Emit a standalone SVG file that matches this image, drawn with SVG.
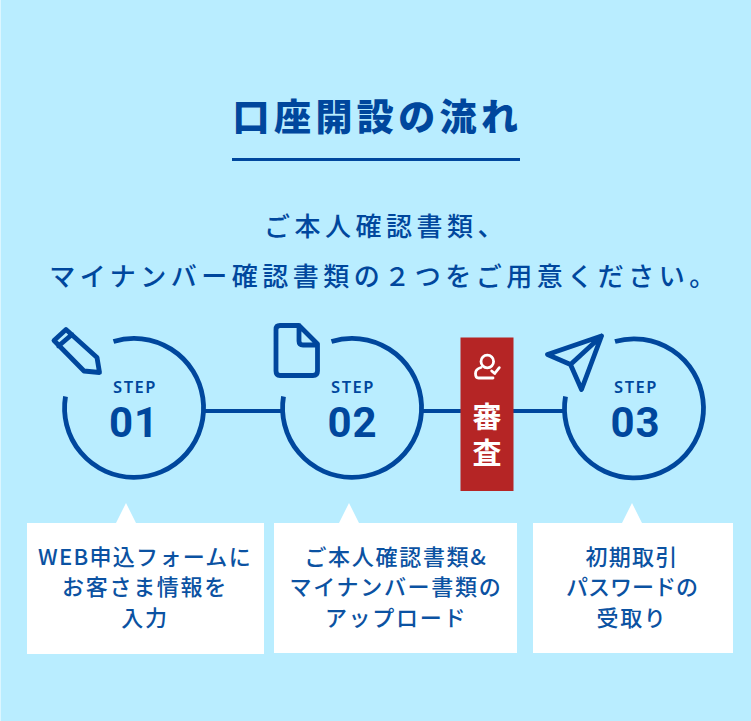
<svg xmlns="http://www.w3.org/2000/svg" width="751" height="721" viewBox="0 0 751 721">
<style>
text{font-family:"Noto Sans CJK JP","Noto Sans",sans-serif;fill:#00479d;text-anchor:middle}
.ttl{font-size:37px;font-weight:900;letter-spacing:4.400px}
.lead{font-size:26px;font-weight:500;letter-spacing:4.500px}
.st{font-family:"Noto Sans","Open Sans",sans-serif;font-size:16.500px;font-weight:600;letter-spacing:1.500px}
.num{font-family:"Roboto","Noto Sans",sans-serif;font-size:42px;font-weight:700;letter-spacing:1px}
.d{font-size:22px;font-weight:500;letter-spacing:1.700px;fill:#0b52a2}
.k{font-size:29px;font-weight:700;fill:#fff;writing-mode:vertical-rl;letter-spacing:7px}
.arc{fill:none;stroke:#00479d;stroke-width:4.800}
.cn{fill:none;stroke:#00479d;stroke-width:4.200}
.ic{fill:none;stroke:#00479d;stroke-width:4.800;stroke-linejoin:round;stroke-linecap:round}
.b{fill:#fff}
</style>
<rect width="751" height="721" fill="#b9edff"/>
<rect x="0" y="0" width="1" height="721" fill="#fff" opacity=".5"/>
<g id="title">
<text class="ttl" x="377.500" y="131">口座開設の流れ</text>
<rect x="232" y="158" width="288" height="3" fill="#00479d"/>
</g>
<g id="lead">
<text class="lead" x="386" y="236">ご本人確認書類、</text>
<text class="lead" x="384.500" y="286">マイナンバー確認書類の２つをご用意ください。</text>
</g>
<g id="connectors">
<path class="cn" d="M205 411H281M423 411H461M513 411H565"/>
</g>
<g id="step1">
<path class="arc" d="M113.500 341.500A69.500 69.500 0 1 1 65.500 396.500"/>
<path class="ic" d="M54 340.500L66 329.500L97 357.500L99.500 372.500L84 371ZM58.500 346L72 334.500"/>
<text class="st" x="135" y="393">STEP</text>
<text class="num" x="134" y="437">01</text>
</g>
<g id="step2">
<path class="arc" d="M331.500 341.500A69.500 69.500 0 1 1 283.500 396.500"/>
<path class="ic" d="M299 325.500H280Q276 325.500 276 329.500V371Q276 375.500 280 375.500H313Q317.500 375.500 317.500 371V344L299 325.500V341Q299 345 303 345H317.500"/>
<text class="st" x="353" y="393">STEP</text>
<text class="num" x="352.500" y="437">02</text>
</g>
<g id="review">
<rect x="460.500" y="337.500" width="53" height="153.500" fill="#b52525"/>
<circle cx="487.300" cy="361.500" r="6.300" fill="none" stroke="#fff" stroke-width="2.800"/>
<path d="M493 378H478.500Q475.500 378 475.500 373.500Q475.500 369 481 367.500M491.700 371L494.700 373.500L499.300 367.700" fill="none" stroke="#fff" stroke-width="2.800" stroke-linecap="round" stroke-linejoin="round"/>
<text class="k" x="487" y="438.500">審査</text>
</g>
<g id="step3">
<path class="arc" d="M615 341.500A69.500 69.500 0 1 1 565.500 396.500"/>
<path class="ic" d="M601.500 336L547.500 354.500L570.500 364.500L581.500 389.500ZM601.500 336L570.500 364.500"/>
<text class="st" x="636" y="393">STEP</text>
<text class="num" x="635.500" y="437">03</text>
</g>
<g id="box1">
<path class="b" d="M27 523H116L126 503L136 523H264V654H27Z"/>
<text class="d" x="145" y="565" style="letter-spacing:1.300px">WEB申込フォームに</text>
<text class="d" x="145" y="595">お客さま情報を</text>
<text class="d" x="145" y="626">入力</text>
</g>
<g id="box2">
<path class="b" d="M274 523H339L349 503L359 523H517V653H274Z"/>
<text class="d" x="396" y="565">ご本人確認書類&amp;</text>
<text class="d" x="396" y="595">マイナンバー書類の</text>
<text class="d" x="396" y="626">アップロード</text>
</g>
<g id="box3">
<path class="b" d="M533 523H622L632 503L642 523H733V653H533Z"/>
<text class="d" x="632" y="565" style="letter-spacing:1.200px">初期取引</text>
<text class="d" x="632" y="595" style="letter-spacing:0">パスワードの</text>
<text class="d" x="632" y="626">受取り</text>
</g>
</svg>
